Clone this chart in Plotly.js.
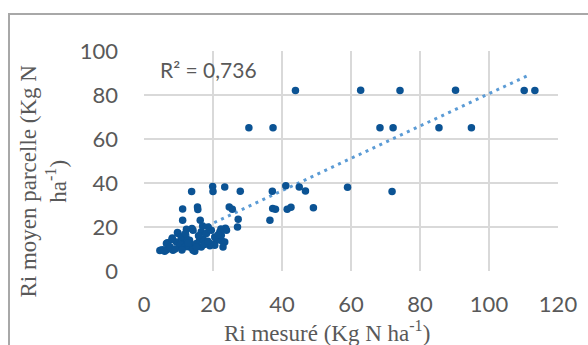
<!DOCTYPE html>
<html>
<head>
<meta charset="utf-8">
<script src="https://cdn.plot.ly/plotly-3.0.1.min.js"></script>
<style>
html,body{margin:0;padding:0;background:#fff;}
#wrap{position:relative;width:588px;height:345px;overflow:hidden;}
#frame{position:absolute;left:8px;top:13px;width:700px;height:500px;border-left:2px solid #a8a8a8;border-top:2px solid #a8a8a8;box-sizing:border-box;}
#chart{position:absolute;left:0;top:0;width:588px;height:345px;}
</style>
</head>
<body>
<div id="wrap"><div id="frame"></div><div id="chart"></div></div>
<script>
const riMesure = [
  43.9, 62.8, 74.2, 90.3, 110.2, 113.3,
  30.4, 37.4, 68.4, 72.2, 85.5, 94.9,
  59.0, 71.9, 49.1, 46.8, 45.0, 41.1, 37.2, 37.3, 38.1, 41.5, 42.6, 36.5,
  27.9, 23.4, 19.9, 20.0, 13.8,
  11.2, 15.5, 15.6, 24.7, 25.6,
  11.2, 16.3, 27.3, 27.1,
  23.6, 22.3, 22.5, 19.1,
  13.9, 12.3, 9.7, 16.6, 8.2, 6.8, 4.6, 6.0, 8.4, 10.3, 11.3, 13.2, 14.2, 14.7, 16.1, 16.6, 9.4,
  5.4, 6.6, 6.5, 8.1, 9.9, 12.3, 14.2, 13.2, 14.2, 15.2, 17.1, 18.1, 19.5, 21.0, 20.5, 22.4, 23.4, 23.9,
  18.6, 20.5, 19.1, 22.9, 15.2, 22.0,
  10.5, 12.0, 7.5, 9.0, 11.0, 12.8, 15.8, 17.5, 18.5, 21.5, 17.0, 10.8, 12.0
];
const riMoyen = [
  82.0, 82.2, 82.0, 82.2, 82.0, 82.0,
  65.1, 65.1, 65.1, 65.1, 65.1, 65.1,
  38.1, 36.1, 28.8, 36.4, 38.2, 38.7, 36.3, 28.4, 28.1, 28.1, 29.0, 23.1,
  36.3, 38.2, 38.4, 36.1, 36.1,
  28.2, 29.1, 27.9, 29.1, 28.1,
  23.1, 23.1, 23.5, 20.0,
  19.4, 19.1, 13.7, 11.5,
  19.3, 19.0, 17.5, 17.8, 15.0, 12.8, 9.3, 9.0, 9.4, 10.9, 13.2, 14.0, 11.7, 9.0, 14.0, 10.9, 13.2,
  9.7, 9.7, 12.5, 14.3, 17.0, 14.7, 18.5, 10.9, 9.4, 12.5, 14.7, 17.0, 18.5, 14.0, 11.7, 16.2, 13.2, 18.5,
  20.0, 15.5, 12.5, 10.9, 10.9, 17.8,
  12.0, 11.0, 11.0, 10.0, 9.5, 12.6, 16.0, 12.0, 13.5, 16.5, 20.5, 15.5, 17.0
];
// linear trend line end points (as drawn in the picture)
const trendX = [4.4, 111.3];
const trendY = [10.3, 88.9];
const r2Label = "R² = 0,736";
const xTickVals = [0, 20, 40, 60, 80, 100, 120];
const yTickVals = [0, 20, 40, 60, 80, 100];
const xTitle = "Ri mesuré (Kg N ha<sup>-1</sup>)";
const yTitle = "Ri moyen parcelle (Kg N<br>ha<sup>-1</sup>)";

const tickFont = {family: "Lato, 'Open Sans', sans-serif", size: 22, color: "#595959"};
const serif = {family: "'Liberation Serif', 'DejaVu Serif', serif", size: 23, color: "#595959"};

const data = [
  {x: trendX, y: trendY, type: "scatter", mode: "lines",
   line: {color: "#5b9bd5", width: 3, dash: "3px,4.6px"}, hoverinfo: "skip"},
  {x: riMesure, y: riMoyen, type: "scatter", mode: "markers",
   marker: {color: "#0b5394", size: 7.5}}
];

const layout = {
  width: 588, height: 345,
  margin: {l: 144.4, r: 30.4, t: 51, b: 74.3},
  paper_bgcolor: "rgba(0,0,0,0)", plot_bgcolor: "rgba(0,0,0,0)",
  showlegend: false,
  xaxis: {range: [0, 120], tickvals: xTickVals, gridcolor: "#d9d9d9", gridwidth: 1.5,
          zeroline: false, showline: false, tickfont: tickFont, ticklabelstandoff: 18, fixedrange: true},
  yaxis: {range: [0, 100], tickvals: yTickVals, gridcolor: "#d9d9d9", gridwidth: 1.5,
          zeroline: false, showline: false, tickfont: tickFont, ticklabelstandoff: 25, fixedrange: true},
  annotations: [
    {text: r2Label, xref: "paper", yref: "paper", x: 0.035, y: 0.915, xanchor: "left", yanchor: "middle",
     showarrow: false, font: {family: "Lato, 'Open Sans', sans-serif", size: 21, color: "#595959"}},
    {text: xTitle, xref: "paper", yref: "paper", x: (327 - 144.4) / 413.2, y: (270.7 - 331) / 219.7,
     xanchor: "center", yanchor: "middle", showarrow: false, font: serif},
    {text: yTitle, xref: "paper", yref: "paper", x: (44 - 144.4) / 413.2, y: (270.7 - 181) / 219.7,
     xanchor: "center", yanchor: "middle", textangle: -90, showarrow: false, font: serif}
  ]
};

Plotly.newPlot("chart", data, layout, {displayModeBar: false, staticPlot: true});
</script>
</body>
</html>
